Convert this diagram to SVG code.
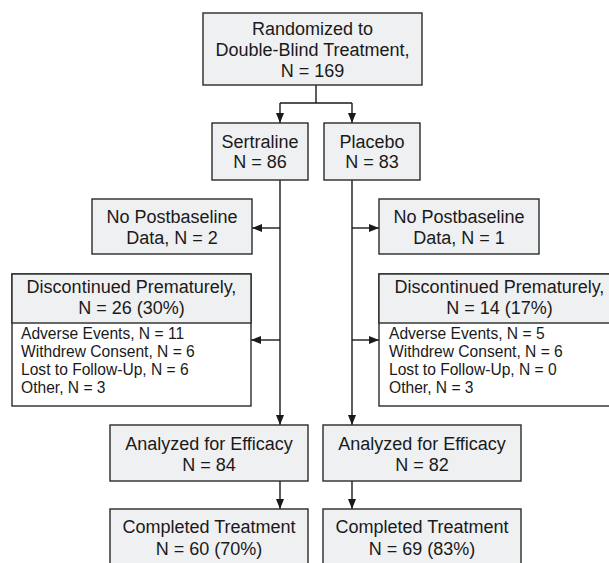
<svg xmlns="http://www.w3.org/2000/svg" width="609" height="563" viewBox="0 0 609 563">
<defs>
<style>
.box{fill:#eff0f2;stroke:#2a2a2a;stroke-width:1.4}
.wbox{fill:#ffffff;stroke:#2a2a2a;stroke-width:1.4}
.t{font-family:"Liberation Sans",Arial,sans-serif;font-size:18px;fill:#1a1a1a;text-anchor:middle}
.s{font-family:"Liberation Sans",Arial,sans-serif;font-size:15.6px;fill:#1a1a1a}
.c{fill:none;stroke:#1a1a1a;stroke-width:1.4}
</style>
<marker id="ah" viewBox="0 0 10 8" refX="10" refY="4" markerWidth="10" markerHeight="8" markerUnits="userSpaceOnUse" orient="auto">
<path d="M0,0 L10,4 L0,8 Z" fill="#1a1a1a"/>
</marker>
</defs>
<rect width="609" height="563" fill="#ffffff"/>
<g id="connectors">
<path class="c" d="M316,85 V103 M280,103 H352"/>
<path class="c" d="M280,103 V123" marker-end="url(#ah)"/>
<path class="c" d="M352,103 V123" marker-end="url(#ah)"/>
<path class="c" d="M280,180 V425" marker-end="url(#ah)"/>
<path class="c" d="M352,180 V425" marker-end="url(#ah)"/>
<path class="c" d="M280,228 H252" marker-end="url(#ah)"/>
<path class="c" d="M280,340 H251" marker-end="url(#ah)"/>
<path class="c" d="M352,228 H379" marker-end="url(#ah)"/>
<path class="c" d="M352,340 H379" marker-end="url(#ah)"/>
<path class="c" d="M280,481 V509" marker-end="url(#ah)"/>
<path class="c" d="M352,481 V509" marker-end="url(#ah)"/>
</g>
<g id="randomized">
<rect class="box" x="203" y="13" width="219" height="72"/>
<text class="t" x="312.5" y="35">Randomized to</text>
<text class="t" x="312.5" y="56">Double-Blind Treatment,</text>
<text class="t" x="312.5" y="77">N = 169</text>
</g>
<g id="sertraline">
<rect class="box" x="212" y="123" width="96" height="57"/>
<text class="t" x="260" y="148">Sertraline</text>
<text class="t" x="260" y="168">N = 86</text>
</g>
<g id="placebo">
<rect class="box" x="324" y="123" width="96" height="57"/>
<text class="t" x="372" y="148">Placebo</text>
<text class="t" x="372" y="168">N = 83</text>
</g>
<g id="nopost-sertraline">
<rect class="box" x="92" y="199" width="160" height="55"/>
<text class="t" x="172" y="223">No Postbaseline</text>
<text class="t" x="172" y="244">Data, N = 2</text>
</g>
<g id="nopost-placebo">
<rect class="box" x="379" y="199" width="160" height="55"/>
<text class="t" x="459" y="223">No Postbaseline</text>
<text class="t" x="459" y="244">Data, N = 1</text>
</g>
<g id="disc-sertraline">
<rect class="wbox" x="12" y="274" width="239" height="132"/>
<rect class="box" x="12" y="274" width="239" height="49"/>
<text class="t" x="131.5" y="293">Discontinued Prematurely,</text>
<text class="t" x="131.5" y="314">N = 26 (30%)</text>
<text class="s" x="21" y="339">Adverse Events, N = 11</text>
<text class="s" x="21" y="357">Withdrew Consent, N = 6</text>
<text class="s" x="21" y="375">Lost to Follow-Up, N = 6</text>
<text class="s" x="21" y="393">Other, N = 3</text>
</g>
<g id="disc-placebo">
<rect class="wbox" x="379" y="274" width="239" height="132"/>
<rect class="box" x="379" y="274" width="239" height="49"/>
<text class="t" x="499.5" y="293">Discontinued Prematurely,</text>
<text class="t" x="499.5" y="314">N = 14 (17%)</text>
<text class="s" x="389" y="339">Adverse Events, N = 5</text>
<text class="s" x="389" y="357">Withdrew Consent, N = 6</text>
<text class="s" x="389" y="375">Lost to Follow-Up, N = 0</text>
<text class="s" x="389" y="393">Other, N = 3</text>
</g>
<g id="analyzed-sertraline">
<rect class="box" x="110" y="425" width="198" height="56"/>
<text class="t" x="209" y="450">Analyzed for Efficacy</text>
<text class="t" x="209" y="471">N = 84</text>
</g>
<g id="analyzed-placebo">
<rect class="box" x="323" y="425" width="198" height="56"/>
<text class="t" x="422" y="450">Analyzed for Efficacy</text>
<text class="t" x="422" y="471">N = 82</text>
</g>
<g id="completed-sertraline">
<rect class="box" x="110" y="509" width="198" height="60"/>
<text class="t" x="209" y="533">Completed Treatment</text>
<text class="t" x="209" y="555">N = 60 (70%)</text>
</g>
<g id="completed-placebo">
<rect class="box" x="323" y="509" width="198" height="60"/>
<text class="t" x="422" y="533">Completed Treatment</text>
<text class="t" x="422" y="555">N = 69 (83%)</text>
</g>
</svg>
